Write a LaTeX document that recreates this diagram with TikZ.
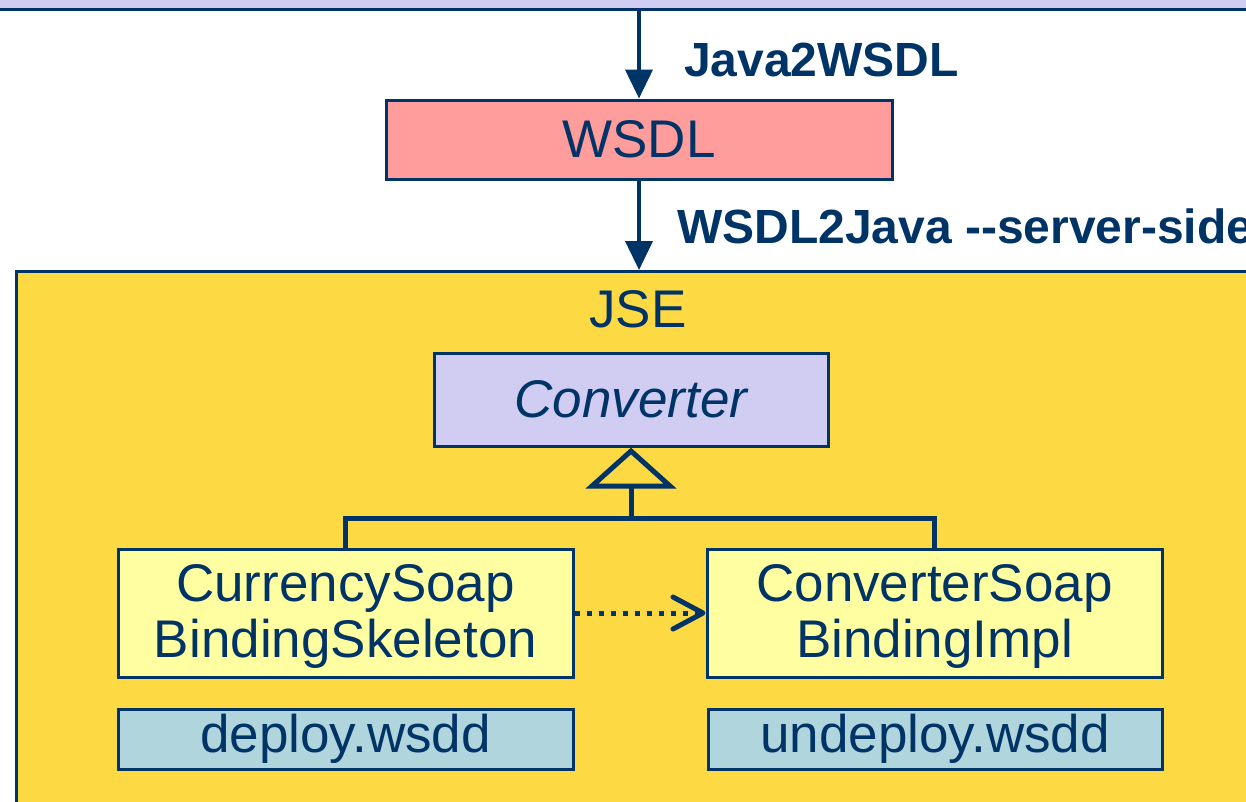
\documentclass[tikz,border=0pt]{standalone}
\usepackage{fontspec}
\newfontfamily\arialfont{Liberation Sans}
\usetikzlibrary{arrows.meta}

\definecolor{navy}{RGB}{0,51,102}
\definecolor{lav}{RGB}{208,204,242}
\definecolor{pinkc}{RGB}{255,156,156}
\definecolor{jsey}{RGB}{253,217,67}
\definecolor{paley}{RGB}{255,255,162}
\definecolor{paleb}{RGB}{176,213,220}

\begin{document}
\begin{tikzpicture}[x=1pt,y=-1pt,
  box/.style={draw=navy, line width=3pt, inner sep=0pt, text=navy, align=center,
    font=\arialfont\fontsize{53}{56}\selectfont},
  txt/.style={inner sep=0pt, text=navy, align=center, font=\arialfont\fontsize{53}{56}\selectfont},
  lbl/.style={inner sep=0pt, text=navy, font=\arialfont\bfseries\fontsize{48}{50}\selectfont},
  flow/.style={navy, line width=4pt, -{Triangle[length=29pt,width=27pt]}},
  uml/.style={navy, line width=5pt},
  dep/.style={navy, line width=5pt, dash pattern=on 5pt off 7pt,
    -{Straight Barb[length=30pt,width=32pt,round]}}]

\path[use as bounding box, clip] (0,0) rectangle (1246,801);

% source bar at the top
\node[box, fill=lav, minimum width=1400pt, minimum height=60pt] (topbar) at (623,-21) {};

% generated WSDL
\node[box, fill=pinkc, minimum width=506pt, minimum height=79pt] (wsdl) at (639,139.5) {WSDL};

% JSE container
\node[box, fill=jsey, minimum width=1400pt, minimum height=600pt, anchor=north west] (jse) at (15,270) {};
\node[txt] (jsel) at (638,309) {JSE};

% classes
\node[box, fill=lav, minimum width=394pt, minimum height=93pt] (conv) at (631,399.5) {\itshape Converter};
\node[box, fill=paley, minimum width=455pt, minimum height=128pt] (skel) at (345.5,613) {};
\node[txt] (skelt) at ([yshift=-3.5pt]skel.center) {CurrencySoap\\BindingSkeleton};
\node[box, fill=paley, minimum width=455pt, minimum height=128pt] (impl) at (934.5,613) {};
\node[txt] (implt) at ([yshift=-3.5pt]impl.center) {ConverterSoap\\BindingImpl};

% deployment descriptors
\node[box, fill=paleb, minimum width=455pt, minimum height=60pt] (deploy) at (345.5,739) {deploy.wsdd};
\node[box, fill=paleb, minimum width=454pt, minimum height=60pt] (undeploy) at (935,739) {undeploy.wsdd};

% tool steps
\draw[flow] (wsdl.north |- topbar.south) -- (wsdl.north);
\node[lbl, anchor=base west] (j2w) at (684,76) {Java2WSDL};
\draw[flow] (wsdl.south) -- (wsdl.south |- jse.north);
\node[lbl, anchor=base west] (w2j) at (677,243) {WSDL2Java --server-side};

% generalization
\coordinate (junc) at (631,518);
\coordinate (tribase) at ([yshift=-38.5pt]conv.south);
\draw[uml] (skel.north) |- (junc) -| (impl.north);
\draw[uml] (junc) -- (tribase);
\draw[uml, fill=jsey] ([yshift=-3.5pt]conv.south) -- ++(-39,35) -- ++(78,0) -- cycle;

% dependency
\draw[dep] (skel.east) -- (impl.west);
\end{tikzpicture}
\end{document}
